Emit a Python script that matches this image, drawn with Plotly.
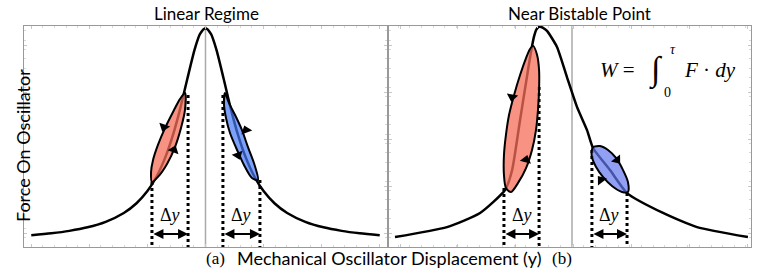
import plotly.graph_objects as go

# ---------------- data ----------------
# Panel (a): symmetric resonance curve
curve_a_x = [-0.96, -0.85, -0.75, -0.65, -0.55, -0.45, -0.38, -0.32, -0.27, -0.22, -0.18, -0.14, -0.10, -0.06, -0.03, 0.0,
             0.03, 0.06, 0.10, 0.14, 0.18, 0.22, 0.27, 0.32, 0.38, 0.45, 0.55, 0.65, 0.75, 0.85, 0.96]
curve_a_y = [0.053, 0.062, 0.073, 0.089, 0.114, 0.154, 0.198, 0.253, 0.318, 0.409, 0.505, 0.624, 0.761, 0.893, 0.964, 0.99,
             0.964, 0.893, 0.761, 0.624, 0.505, 0.409, 0.318, 0.253, 0.198, 0.154, 0.114, 0.089, 0.073, 0.062, 0.053]

# Panel (b): tilted (near-bistable) curve
curve_b_x = [-0.978, -0.691, -0.508, -0.370, -0.331, -0.287, -0.243, -0.224, -0.210, -0.197, -0.182, -0.160, -0.138,
             -0.083, -0.028, 0.028, 0.083, 0.116, 0.210, 0.304, 0.503, 0.691, 0.972]
curve_b_y = [0.045, 0.090, 0.154, 0.258, 0.348, 0.575, 0.801, 0.895, 0.952, 0.984, 0.996, 0.992, 0.978,
             0.905, 0.769, 0.633, 0.529, 0.448, 0.348, 0.244, 0.154, 0.090, 0.045]

# Hysteresis loops (outline points)
loop_a_red_x = [-0.113, -0.113, -0.135, -0.168, -0.212, -0.262, -0.295, -0.300, -0.289, -0.262, -0.223, -0.179, -0.140, -0.113]
loop_a_red_y = [0.697, 0.620, 0.538, 0.452, 0.376, 0.317, 0.294, 0.339, 0.394, 0.462, 0.538, 0.611, 0.670, 0.697]
loop_a_blue_x = [0.107, 0.129, 0.163, 0.201, 0.234, 0.267, 0.289, 0.256, 0.212, 0.174, 0.135, 0.113, 0.102, 0.107]
loop_a_blue_y = [0.697, 0.652, 0.597, 0.529, 0.452, 0.380, 0.303, 0.312, 0.371, 0.439, 0.516, 0.584, 0.643, 0.697]
loop_b_red_x = [-0.215, -0.193, -0.182, -0.182, -0.188, -0.199, -0.221, -0.254, -0.298, -0.337, -0.365, -0.376,
                -0.376, -0.365, -0.348, -0.320, -0.287, -0.254, -0.232, -0.215]
loop_b_red_y = [0.910, 0.869, 0.801, 0.710, 0.620, 0.529, 0.439, 0.357, 0.290, 0.249, 0.267, 0.326,
                0.416, 0.507, 0.597, 0.688, 0.778, 0.855, 0.896, 0.910]
loop_b_blue_x = [0.116, 0.155, 0.199, 0.243, 0.282, 0.309, 0.309, 0.276, 0.221, 0.171, 0.133, 0.110, 0.110, 0.116]
loop_b_blue_y = [0.452, 0.457, 0.439, 0.403, 0.348, 0.294, 0.249, 0.249, 0.276, 0.317, 0.362, 0.407, 0.439, 0.452]

# Arrowheads on loops
arrows_a_x = [-0.229, -0.174, 0.223, 0.179]
arrows_a_y = [0.543, 0.439, 0.529, 0.416]
arrows_a_ang = [200, 20, 340, 160]
arrows_b_x = [-0.331, -0.254, 0.249, 0.160]
arrows_b_y = [0.679, 0.394, 0.394, 0.303]
arrows_b_ang = [190, 15, 142, 322]

# Dotted projection lines (x position, top y)
dots_a_x = [-0.295, -0.096, 0.096, 0.300]
dots_a_top = [0.294, 0.688, 0.688, 0.303]
dots_b_x = [-0.376, -0.182, 0.110, 0.304]
dots_b_top = [0.267, 0.724, 0.439, 0.244]

# Delta-y double arrows (start, end) and arrow height
dy_a = [(-0.295, -0.096), (0.096, 0.300)]
dy_b = [(-0.376, -0.182), (0.110, 0.304)]
dy_arrow_y = 0.059

titles = ["Linear Regime", "Near Bistable Point"]
panel_labels = ["(a)", "(b)"]
x_title = "Mechanical Oscillator Displacement (y)"
y_title = "Force On Oscillator"

# ---------------- figure ----------------
SANS = "Lato, 'Open Sans', sans-serif"
SERIF = "'Liberation Serif', 'DejaVu Serif', serif"

fig = go.Figure()

def add_panel(xa, ya, cx, cy, smooth, loops, arrows, dots_x, dots_top, dys):
    for xv, yt in zip(dots_x, dots_top):
        fig.add_trace(go.Scatter(x=[xv, xv], y=[yt, 0], mode="lines", xaxis=xa, yaxis=ya,
                                 line=dict(color="black", width=3, dash="dot"), hoverinfo="skip"))
    fig.add_trace(go.Scatter(x=cx, y=cy, mode="lines", xaxis=xa, yaxis=ya,
                             line=dict(color="black", width=2.5, shape="spline", smoothing=smooth), hoverinfo="skip"))
    for lx, ly, fc in loops:
        fig.add_trace(go.Scatter(x=lx, y=ly, mode="lines", fill="toself", fillcolor=fc, xaxis=xa, yaxis=ya,
                                 line=dict(color="black", width=2, shape="spline", smoothing=0.8), hoverinfo="skip"))
    ax_, ay_, ang = arrows
    fig.add_trace(go.Scatter(x=ax_, y=ay_, mode="markers", xaxis=xa, yaxis=ya,
                             marker=dict(symbol="triangle-up", size=10, color="black", angle=ang,
                                         line=dict(width=0)), hoverinfo="skip"))
    for (x0, x1) in dys:
        fig.add_annotation(x=x1, y=dy_arrow_y, ax=x0, ay=dy_arrow_y, xref=xa, yref=ya, axref=xa, ayref=ya,
                           text="", showarrow=True, arrowhead=2, startarrowhead=2, arrowside="end+start",
                           arrowsize=1, startarrowsize=1, arrowwidth=2, arrowcolor="black", standoff=0, startstandoff=0)
        fig.add_annotation(x=(x0 + x1) / 2, y=0.145, xref=xa, yref=ya, text="Δ<i>y</i>", showarrow=False,
                           font=dict(family=SERIF, size=18, color="black"))

add_panel("x", "y", curve_a_x, curve_a_y, 0.7,
          [(loop_a_red_x, loop_a_red_y, "rgba(246,110,90,0.75)"),
           (loop_a_blue_x, loop_a_blue_y, "rgba(70,120,245,0.7)")],
          (arrows_a_x, arrows_a_y, arrows_a_ang), dots_a_x, dots_a_top, dy_a)
add_panel("x2", "y2", curve_b_x, curve_b_y, 0.55,
          [(loop_b_red_x, loop_b_red_y, "rgba(246,110,90,0.75)"),
           (loop_b_blue_x, loop_b_blue_y, "rgba(100,120,240,0.7)")],
          (arrows_b_x, arrows_b_y, arrows_b_ang), dots_b_x, dots_b_top, dy_b)

# centre reference lines
fig.add_shape(type="line", x0=0, x1=0, y0=0, y1=1, xref="x", yref="y", line=dict(color="#aaaaaa", width=1.5), layer="below")
fig.add_shape(type="line", x0=0, x1=0, y0=0, y1=1, xref="x2", yref="y2", line=dict(color="#aaaaaa", width=1.5), layer="below")

# titles and labels
fig.add_annotation(x=0.007, y=1, xref="x", yref="paper", yanchor="middle", yshift=13, text=titles[0],
                   showarrow=False, font=dict(family=SANS, size=17, color="black"))
fig.add_annotation(x=0.04, y=1, xref="x2", yref="paper", yanchor="middle", yshift=13, text=titles[1],
                   showarrow=False, font=dict(family=SANS, size=17, color="black"))
fig.add_annotation(x=0.502, y=-0.05, xref="paper", yref="paper", yanchor="middle", text=x_title,
                   showarrow=False, font=dict(family=SANS, size=18, color="black"))
fig.add_annotation(x=-0.0193, y=0.4615, xref="paper", yref="paper", textangle=-90, text=y_title,
                   showarrow=False, font=dict(family=SANS, size=18, color="black"))
fig.add_annotation(x=0.2476, y=-0.05, xref="paper", yref="paper", yanchor="middle", text=panel_labels[0],
                   showarrow=False, font=dict(family=SERIF, size=17, color="black"))
fig.add_annotation(x=0.7565, y=-0.05, xref="paper", yref="paper", yanchor="middle", text=panel_labels[1],
                   showarrow=False, font=dict(family=SERIF, size=17, color="black"))

# work integral formula
fig.add_annotation(x=0.249, y=0.80, xref="x2", yref="y2", text="<i>W</i> =", showarrow=False,
                   font=dict(family=SERIF, size=21, color="black"))
fig.add_annotation(x=0.466, y=0.80, xref="x2", yref="y2", text="<i>∫</i>", showarrow=False,
                   font=dict(family=SERIF, size=34, color="black"))
fig.add_annotation(x=0.556, y=0.895, xref="x2", yref="y2", text="<i>τ</i>", showarrow=False,
                   font=dict(family=SERIF, size=14, color="black"))
fig.add_annotation(x=0.528, y=0.700, xref="x2", yref="y2", text="0", showarrow=False,
                   font=dict(family=SERIF, size=14, color="black"))
fig.add_annotation(x=0.762, y=0.80, xref="x2", yref="y2", text="<i>F</i> · <i>dy</i>", showarrow=False,
                   font=dict(family=SERIF, size=21, color="black"))

def xax(domain, rng, tick0):
    return dict(domain=domain, range=rng, showline=True, linecolor="#999999", linewidth=1, mirror="ticks",
                ticks="inside", ticklen=3, tickcolor="#c8c8c8", tick0=tick0, dtick=0.32,
                minor=dict(ticks="inside", ticklen=2, dtick=0.064, tickcolor="#d8d8d8"),
                showticklabels=False, showgrid=False, zeroline=False, fixedrange=True)

def yax(anchor):
    return dict(anchor=anchor, domain=[0, 1], range=[0, 1], showline=True, linecolor="#999999", linewidth=1,
                mirror="ticks", ticks="inside", ticklen=3, tickcolor="#c8c8c8", tick0=0.063, dtick=0.2127,
                minor=dict(ticks="inside", ticklen=2, dtick=0.04254, tickcolor="#d8d8d8"),
                showticklabels=False, showgrid=False, zeroline=False, fixedrange=True)

fig.update_layout(
    width=762, height=276, showlegend=False,
    margin=dict(l=24, r=11, t=26, b=29),
    paper_bgcolor="white", plot_bgcolor="white",
    xaxis=xax([0, 0.4993], [-1, 1], -0.96),
    xaxis2=xax([0.5021, 1], [-1.011, 0.989], -0.95),
    yaxis=yax("x"),
    yaxis2=yax("x2"),
)

# remove the browser's default 8px body margin so the figure fills the window
fig.write_html("out.html", config={"displayModeBar": False, "staticPlot": True},
               post_script="document.body.style.margin='0';document.body.style.overflow='hidden';")
